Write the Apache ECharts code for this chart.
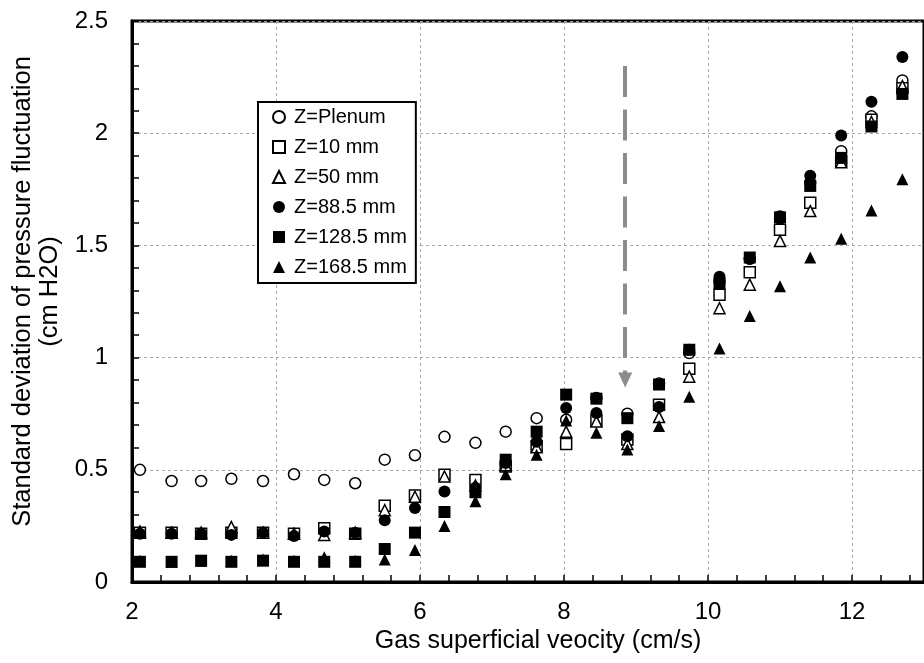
<!DOCTYPE html>
<html>
<head>
<meta charset="utf-8">
<script src="https://cdn.jsdelivr.net/npm/echarts@6/dist/echarts.min.js"></script>
<style>
  html, body { margin: 0; padding: 0; background: #fff; }
  #chart { width: 924px; height: 663px; }
</style>
</head>
<body>
<div id="chart"></div>
<script>
// Gas superficial velocity (cm/s) for each measurement
const velocity = [2.11, 2.55, 2.96, 3.38, 3.82, 4.25, 4.67, 5.10, 5.51, 5.93, 6.34, 6.77, 7.19,
                  7.62, 8.03, 8.45, 8.88, 9.32, 9.74, 10.16, 10.58, 11.00, 11.42, 11.85, 12.27, 12.70];

// Standard deviation of pressure fluctuation (cm H2O) at each probe height
const zPlenum = [0.50, 0.45, 0.45, 0.46, 0.45, 0.48, 0.455, 0.44, 0.545, 0.565, 0.647, 0.62, 0.67,
                 0.73, 0.723, 0.82, 0.75, 0.885, 1.02, 1.34, 1.44, 1.62, 1.78, 1.92, 2.075, 2.235];
const z10 = [0.22, 0.22, 0.215, 0.22, 0.22, 0.215, 0.24, 0.215, 0.34, 0.385, 0.478, 0.455, 0.515,
             0.605, 0.615, 0.72, 0.635, 0.79, 0.95, 1.28, 1.38, 1.57, 1.69, 1.875, 2.06, 2.20];
const z50 = [0.225, 0.22, 0.22, 0.245, 0.22, 0.215, 0.21, 0.22, 0.32, 0.38, 0.47, 0.43, 0.52,
             0.60, 0.67, 0.715, 0.615, 0.735, 0.915, 1.22, 1.325, 1.52, 1.653, 1.87, 2.05, 2.21];
const z88 = [0.215, 0.215, 0.215, 0.21, 0.22, 0.205, 0.225, 0.22, 0.275, 0.33, 0.403, 0.42, 0.53,
             0.625, 0.775, 0.753, 0.65, 0.78, 1.035, 1.36, 1.44, 1.63, 1.81, 1.99, 2.14, 2.34];
const z128 = [0.09, 0.09, 0.095, 0.09, 0.095, 0.09, 0.09, 0.09, 0.147, 0.22, 0.312, 0.40, 0.545,
              0.67, 0.835, 0.817, 0.73, 0.88, 1.035, 1.33, 1.446, 1.625, 1.765, 1.89, 2.03, 2.175];
const z168 = [0.095, 0.09, 0.095, 0.095, 0.10, 0.095, 0.11, 0.095, 0.10, 0.143, 0.25, 0.36, 0.48,
              0.567, 0.72, 0.665, 0.59, 0.695, 0.825, 1.04, 1.185, 1.318, 1.446, 1.53, 1.655, 1.795];

const seriesNames = ['Z=Plenum', 'Z=10 mm', 'Z=50 mm', 'Z=88.5 mm', 'Z=128.5 mm', 'Z=168.5 mm'];

// Transition velocity marked with the dashed arrow, and the arrow's vertical span
const transitionVelocity = 8.85;
const arrowSpan = [2.30, 0.90];

const pair = (ys) => velocity.map((x, i) => [x, ys[i]]);

const FONT = '"Liberation Sans", Arial, sans-serif';

const markerStyles = [
  { symbol: 'circle',   size: 11, open: true },
  { symbol: 'rect',     size: 11, open: true },
  { symbol: 'triangle', size: 11, open: true },
  { symbol: 'circle',   size: 12, open: false },
  { symbol: 'rect',     size: 12, open: false },
  { symbol: 'triangle', size: 12, open: false }
];
const seriesValues = [zPlenum, z10, z50, z88, z128, z168];

const series = seriesValues.map((vals, k) => {
  const m = markerStyles[k];
  return {
    name: seriesNames[k],
    type: 'scatter',
    data: pair(vals),
    symbol: m.symbol,
    symbolSize: m.size,
    itemStyle: m.open
      ? { color: '#ffffff', borderColor: '#000000', borderWidth: 1.5, opacity: 1 }
      : { color: '#000000', borderWidth: 0, opacity: 1 },
    emphasis: { disabled: true },
    z: 3 + k
  };
});

// Dashed arrow pointing down at the transition velocity
series.push({
  type: 'scatter',
  data: [],
  silent: true,
  markLine: {
    silent: true,
    animation: false,
    symbol: ['none', 'triangle'],
    symbolSize: [14, 15],
    label: { show: false },
    lineStyle: { color: '#8c8c8c', width: 4, type: [31, 12.5] },
    emphasis: { disabled: true },
    data: [[
      { coord: [transitionVelocity, arrowSpan[0]] },
      { coord: [transitionVelocity, arrowSpan[1]] }
    ]]
  },
  z: 2
});

const chart = echarts.init(document.getElementById('chart'), null, { renderer: 'canvas' });
chart.setOption({
  animation: false,
  backgroundColor: '#ffffff',
  textStyle: { fontFamily: FONT, color: '#000' },
  grid: {
    left: 132, top: 21, right: -11, bottom: 81,
    show: true, borderColor: '#000', borderWidth: 3, backgroundColor: 'transparent'
  },
  legend: {
    data: seriesNames,
    orient: 'vertical',
    left: 258, top: 102,
    backgroundColor: '#fff',
    borderColor: '#000', borderWidth: 2, borderRadius: 0,
    padding: [5, 9, 6, 14],
    itemWidth: 12, itemHeight: 12, itemGap: 10,
    selectedMode: false,
    textStyle: { fontFamily: FONT, fontSize: 20, color: '#000', lineHeight: 20, padding: [0, 0, 0, 4] }
  },
  xAxis: {
    type: 'value',
    min: 2, max: 13, interval: 2,
    name: 'Gas superficial veocity (cm/s)',
    nameLocation: 'middle',
    nameGap: 35,
    nameTextStyle: { fontFamily: FONT, fontSize: 25, color: '#000', padding: [0, 0, 0, 20] },
    axisLine: { show: true, onZero: false, lineStyle: { color: '#000', width: 3 } },
    axisTick: { show: true, inside: true, length: 7, lineStyle: { color: '#000', width: 1.5 } },
    minorTick: { show: true, splitNumber: 5, length: 7, lineStyle: { color: '#000', width: 1.5 } },
    axisLabel: { fontFamily: FONT, fontSize: 24, color: '#000', margin: 18, showMaxLabel: false },
    splitLine: { show: true, lineStyle: { color: '#a8a8a8', width: 1, type: [3, 3] } }
  },
  yAxis: {
    type: 'value',
    min: 0, max: 2.5, interval: 0.5,
    name: 'Standard deviation of pressure fluctuation\n(cm H2O)',
    nameLocation: 'middle',
    nameGap: 56,
    nameTextStyle: { fontFamily: FONT, fontSize: 25.5, color: '#000', lineHeight: 27, padding: [0, 0, 0, 20] },
    axisLine: { show: true, lineStyle: { color: '#000', width: 3 } },
    axisTick: { show: true, inside: true, length: 7, lineStyle: { color: '#000', width: 1.5 } },
    minorTick: { show: true, splitNumber: 5, length: 7, lineStyle: { color: '#000', width: 1.5 } },
    axisLabel: { fontFamily: FONT, fontSize: 24, color: '#000', margin: 24 },
    splitLine: { show: true, lineStyle: { color: '#a8a8a8', width: 1, type: [3, 3] } }
  },
  series: series
});
</script>
</body>
</html>
